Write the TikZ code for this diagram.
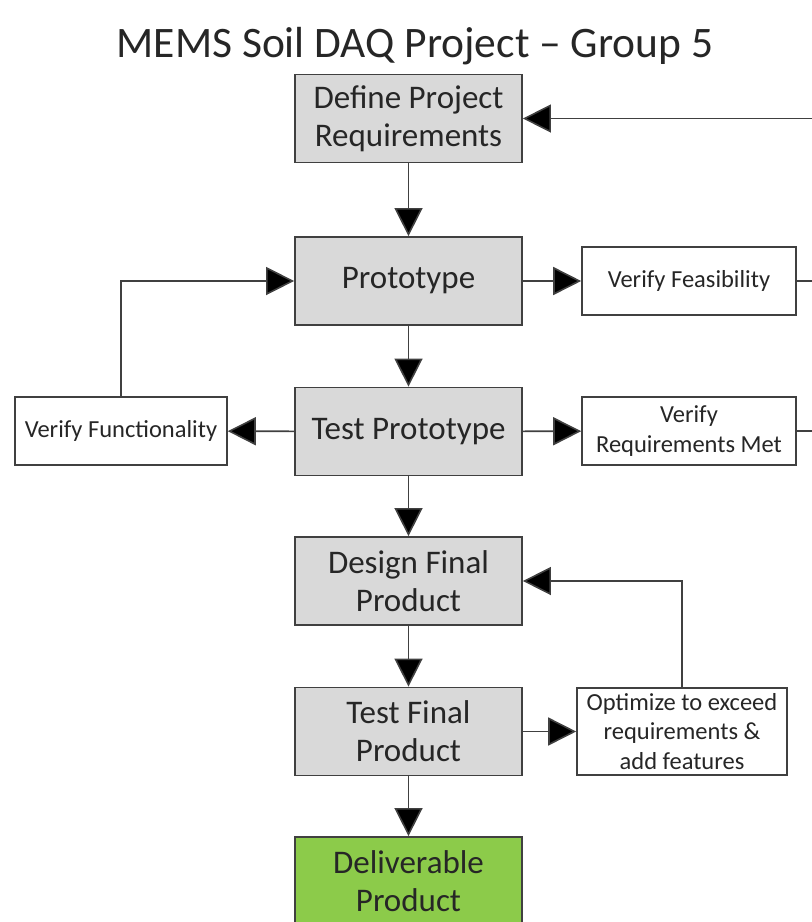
\documentclass[tikz,border=0pt]{standalone}
\usepackage{fontspec}
\setmainfont{Carlito}
\usetikzlibrary{arrows.meta}
\definecolor{boxgray}{HTML}{D9D9D9}
\definecolor{delgreen}{HTML}{8CCB4A}
\definecolor{linecol}{HTML}{404040}
\definecolor{txtcol}{HTML}{262626}
\tikzset{
  mainbox/.style={draw=linecol, line width=1.8pt, fill=boxgray, minimum width=227pt, minimum height=88pt, align=center, text=txtcol, font=\fontsize{33}{38}\selectfont, inner sep=0pt},
  sidebox/.style={draw=linecol, line width=1.6pt, fill=white, minimum width=214pt, minimum height=68pt, align=center, text=txtcol, font=\fontsize{24.5}{29.5}\selectfont, inner sep=0pt},
  conn/.style={draw=linecol, line width=1.6pt, -{Triangle[length=28pt,width=28pt,fill=black]}},
  plainconn/.style={draw=linecol, line width=1.6pt}
}
\begin{document}
\begin{tikzpicture}[x=1pt,y=-1pt]
\useasboundingbox (0,0) rectangle (812,922);
\clip (0,0) rectangle (812,922);
\node[text=txtcol, font=\fontsize{43.5}{50}\selectfont, inner sep=0pt] (title) at (415,46) {MEMS Soil DAQ Project – Group 5};
\node[mainbox] (def) at (408.5,118.5) {Define Project\\Requirements};
\node[mainbox] (proto) at (408.5,281) {Prototype};
\node[mainbox] (testp) at (408.5,431.5) {Test Prototype};
\node[mainbox] (design) at (408.5,581) {Design Final\\Product};
\node[mainbox] (testf) at (408.5,731.5) {Test Final\\Product};
\node[mainbox, fill=delgreen] (deliv) at (408.5,881) {Deliverable\\Product};
\node[sidebox] (vfeas) at (689,281) {Verify Feasibility};
\node[sidebox] (vreq) at (689,431) {Verify\\Requirements Met};
\node[sidebox, minimum width=212pt] (vfunc) at (121,431) {Verify Functionality};
\node[sidebox, minimum width=210pt, minimum height=87pt] (opt) at (682,731.5) {Optimize to exceed\\requirements \&\\add features};
\coordinate (rtop) at (814,118.5);
\coordinate (rfeas) at (814,281);
\coordinate (rreq) at (814,431);
\draw[conn] (def) -- (proto);
\draw[conn] (proto) -- (testp);
\draw[conn] (testp) -- (design);
\draw[conn] (design) -- (testf);
\draw[conn] (testf) -- (deliv);
\draw[conn] (proto) -- (vfeas);
\draw[conn] (testp) -- (vreq);
\draw[conn] (testp) -- (vfunc);
\draw[conn] (testf) -- (opt);
\draw[conn] (vfunc.north) |- (proto.west);
\draw[conn] (opt.north) |- (design.east);
\draw[conn] (rtop) -- (def.east);
\draw[plainconn] (vfeas.east) -- (rfeas);
\draw[plainconn] (vreq.east) -- (rreq);
\end{tikzpicture}
\end{document}
